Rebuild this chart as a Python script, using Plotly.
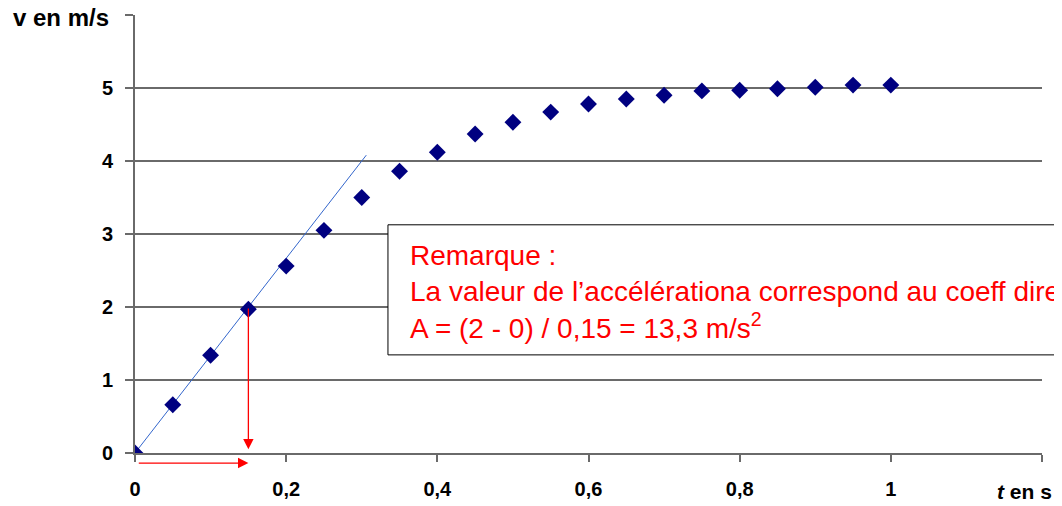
import plotly.graph_objects as go

t_values = [0, 0.05, 0.1, 0.15, 0.2, 0.25, 0.3, 0.35, 0.4, 0.45, 0.5,
            0.55, 0.6, 0.65, 0.7, 0.75, 0.8, 0.85, 0.9, 0.95, 1.0]
v_values = [0, 0.66, 1.34, 1.97, 2.56, 3.05, 3.5, 3.86, 4.12, 4.37, 4.53,
            4.67, 4.78, 4.85, 4.9, 4.96, 4.97, 4.99, 5.01, 5.04, 5.04]

tangent_t = [0, 0.306]
tangent_v = [0, 4.08]

x_tickvals = [0, 0.2, 0.4, 0.6, 0.8, 1.0, 1.2]
x_ticktext = ["0", "0,2", "0,4", "0,6", "0,8", "1", ""]
y_tickvals = [0, 1, 2, 3, 4, 5, 6]
y_ticktext = ["0", "1", "2", "3", "4", "5", ""]

point_t, point_v = 0.15, 2.0

FONT = "Liberation Sans, Arial"

fig = go.Figure()
fig.add_trace(go.Scatter(x=tangent_t, y=tangent_v, mode="lines",
                         line=dict(color="#3366cc", width=1), hoverinfo="skip"))
fig.add_trace(go.Scatter(x=t_values, y=v_values, mode="markers",
                         marker=dict(symbol="diamond", color="#000080", size=13)))

# red arrows
fig.add_annotation(x=point_t, y=0.05, ax=point_t, ay=point_v, xref="x", yref="y",
                   axref="x", ayref="y", showarrow=True, arrowhead=2, arrowsize=1.6,
                   arrowwidth=1.3, arrowcolor="red", text="")
fig.add_annotation(x=point_t, y=-0.023, ax=0.003, ay=0, xref="x", yref="paper",
                   axref="x", ayref="pixel", showarrow=True, arrowhead=2, arrowsize=1.6,
                   arrowwidth=1.3, arrowcolor="red", text="")

# remark box
fig.add_shape(type="rect", xref="paper", yref="paper", x0=0.2789, x1=1.05,
              y0=0.224, y1=0.521, line=dict(color="black", width=1),
              fillcolor="white", layer="above")
fig.add_annotation(xref="paper", yref="paper", x=0.301, y=0.492, xanchor="left",
                   yanchor="top", align="left", showarrow=False,
                   text="Remarque :<br>La valeur de l’accélérationa correspond au coeff directeur<br>A = (2 - 0) / 0,15 = 13,3 m/s<sup>2</sup>",
                   font=dict(family=FONT, size=28, color="red"))

# axis titles placed at the end of the axes
fig.add_annotation(xref="paper", yref="paper", x=1.013, y=-0.087, xanchor="right",
                   yanchor="middle", showarrow=False,
                   text="<b><i>t</i> en s</b>",
                   font=dict(family=FONT, size=21, color="black"))
fig.add_annotation(xref="paper", yref="paper", x=-0.027, y=0.995, xanchor="right",
                   yanchor="middle", showarrow=False,
                   text="<b>v en m/s</b>",
                   font=dict(family=FONT, size=24, color="black"))

fig.update_layout(
    width=1054, height=498,
    margin=dict(l=127, r=20, t=7, b=53, autoexpand=False),
    paper_bgcolor="white", plot_bgcolor="white",
    showlegend=False,
    font=dict(family=FONT, size=18, color="black"),
)
fig.update_xaxes(range=[0, 1.2], tickvals=x_tickvals, ticktext=x_ticktext,
                 showgrid=False, showline=True, linecolor="#6a6a6a", linewidth=2,
                 ticks="outside", ticklen=7, tickcolor="#6a6a6a", tickwidth=2,
                 ticklabelstandoff=10, automargin=False,
                 tickfont=dict(family=FONT, size=20, weight="bold"),
                 zeroline=False)
fig.update_yaxes(range=[0, 6], tickvals=y_tickvals, ticktext=y_ticktext,
                 showgrid=True, gridcolor="#6a6a6a", gridwidth=2,
                 showline=True, linecolor="#6a6a6a", linewidth=2,
                 ticks="outside", ticklen=8, tickcolor="#6a6a6a", tickwidth=2,
                 ticklabelstandoff=8, automargin=False,
                 tickfont=dict(family=FONT, size=20, weight="bold"),
                 zeroline=False)

fig.write_html("out.html")
